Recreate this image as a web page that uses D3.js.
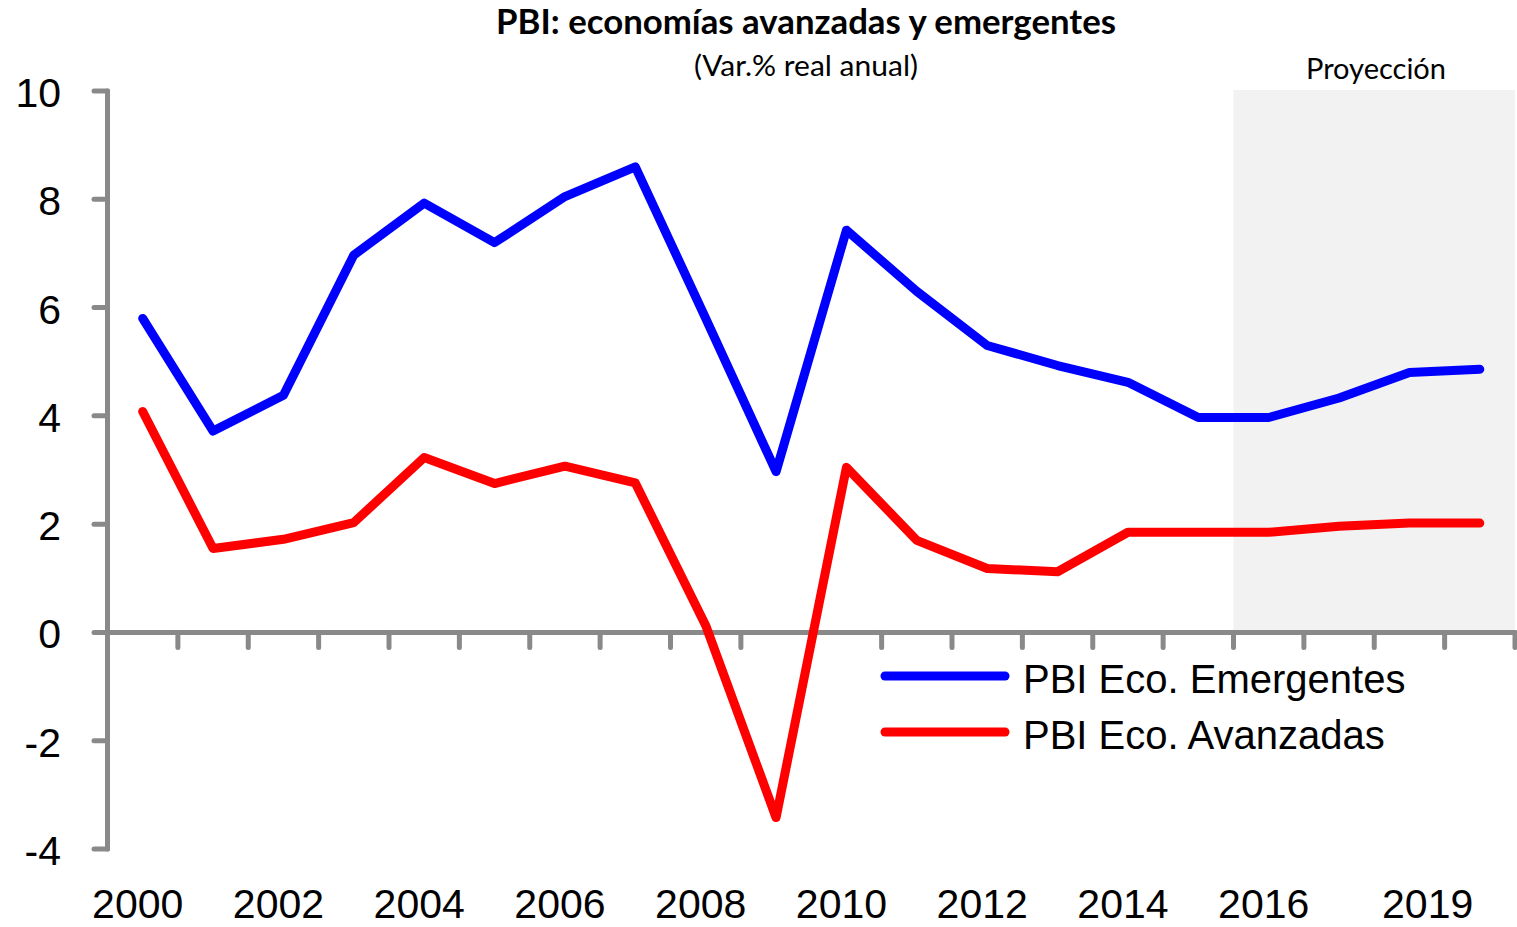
<!DOCTYPE html>
<html><head><meta charset="utf-8">
<script src="https://cdn.jsdelivr.net/npm/d3@7"></script>
<style>body{margin:0;background:#fff}svg{display:block}</style>
</head><body>
<script>
const years = [2000,2001,2002,2003,2004,2005,2006,2007,2008,2009,2010,2011,2012,2013,2014,2015,2016,2017,2018,2019];
const emergentes = [5.8,3.72,4.38,6.97,7.93,7.2,8.05,8.6,5.8,2.97,7.43,6.3,5.3,4.93,4.62,3.97,3.97,4.33,4.8,4.86];
const avanzadas = [4.08,1.55,1.72,2.03,3.23,2.75,3.07,2.76,0.13,-3.42,3.05,1.7,1.18,1.12,1.85,1.85,1.85,1.96,2.02,2.02];
const yTicks = [-4,-2,0,2,4,6,8,10];
const xTickLabels = ["2000","2002","2004","2006","2008","2010","2012","2014","2016","2019"];
const xTickLabelYears = [2000,2002,2004,2006,2008,2010,2012,2014,2016,2018.33];
const projectionStart = 2016;
const seriesNames = ["PBI Eco. Emergentes","PBI Eco. Avanzadas"];
const seriesColors = ["#0000ff","#ff0000"];

const W=1517,H=927;
const svg=d3.select("body").append("svg").attr("width",W).attr("height",H);
const x=d3.scaleLinear().domain([1999.5,2019.5]).range([107.5,1515]);
const y=d3.scaleLinear().domain([-4,10]).range([849,91]);
const axisColor="#898989";
const sans="'Liberation Sans', Arial, sans-serif";
const cal="Lato, 'Open Sans', sans-serif";

// projection shading
svg.append("rect").attr("x",x(projectionStart-0.5)).attr("y",y(10)-1)
  .attr("width",x(2019.5)-x(projectionStart-0.5)).attr("height",y(0)-y(10)+1)
  .attr("fill","#f2f2f2");
svg.append("text").attr("x",1376).attr("y",79)
  .attr("text-anchor","middle").attr("font-family",cal)
  .attr("font-size",28).attr("textLength",140).attr("lengthAdjust","spacingAndGlyphs")
  .attr("fill","#000").text("Proyección");

// title
svg.append("text").attr("x",806).attr("y",34).attr("text-anchor","middle")
  .attr("font-family",cal).attr("font-weight","bold")
  .attr("font-size",34).attr("textLength",620).attr("lengthAdjust","spacingAndGlyphs")
  .attr("fill","#000").text("PBI: economías avanzadas y emergentes");
svg.append("text").attr("x",806).attr("y",76).attr("text-anchor","middle")
  .attr("font-family",cal).attr("font-size",28).attr("textLength",224).attr("lengthAdjust","spacingAndGlyphs")
  .attr("fill","#000").text("(Var.% real anual)");

// y axis
const g=svg.append("g");
g.append("line").attr("x1",x(1999.5)).attr("x2",x(1999.5)).attr("y1",y(10)).attr("y2",y(-4))
  .attr("stroke",axisColor).attr("stroke-width",5).attr("stroke-linecap","round");
g.selectAll(".yt").data(yTicks).join("line").attr("x1",94).attr("x2",x(1999.5))
  .attr("y1",d=>y(d)).attr("y2",d=>y(d)).attr("stroke",axisColor).attr("stroke-width",5).attr("stroke-linecap","round");
g.selectAll(".yl").data(yTicks).join("text").attr("x",61).attr("y",d=>y(d)+16)
  .attr("text-anchor","end").attr("font-family",sans)
  .attr("font-size",41).attr("fill","#000").text(d=>d);

// x axis at 0
g.append("line").attr("x1",x(1999.5)).attr("x2",x(2019.5)).attr("y1",y(0)).attr("y2",y(0))
  .attr("stroke",axisColor).attr("stroke-width",5).attr("stroke-linecap","round");
const bounds=d3.range(2000.5,2020,1);
g.selectAll(".xt").data(bounds).join("line").attr("x1",d=>x(d)).attr("x2",d=>x(d))
  .attr("y1",y(0)).attr("y2",y(0)+15).attr("stroke",axisColor).attr("stroke-width",5).attr("stroke-linecap","round");
g.selectAll(".xl").data(xTickLabels).join("text").attr("x",(d,i)=>x(xTickLabelYears[i])-5).attr("y",918)
  .attr("text-anchor","middle").attr("font-family",sans)
  .attr("font-size",41).attr("fill","#000").text(d=>d);

// lines
const line=d3.line().x((d,i)=>x(years[i])).y(d=>y(d));
[emergentes,avanzadas].forEach((s,k)=>{
  svg.append("path").attr("d",line(s)).attr("fill","none").attr("stroke",seriesColors[k])
    .attr("stroke-width",9).attr("stroke-linejoin","round").attr("stroke-linecap","round");
});

// legend
seriesNames.forEach((n,k)=>{
  const ly=676+k*56;
  svg.append("line").attr("x1",885).attr("x2",1005).attr("y1",ly).attr("y2",ly)
    .attr("stroke",seriesColors[k]).attr("stroke-width",9).attr("stroke-linecap","round");
  svg.append("text").attr("x",1023).attr("y",ly+17).attr("font-family",sans)
    .attr("font-size",40).attr("fill","#000").text(n);
});
</script>
</body></html>
